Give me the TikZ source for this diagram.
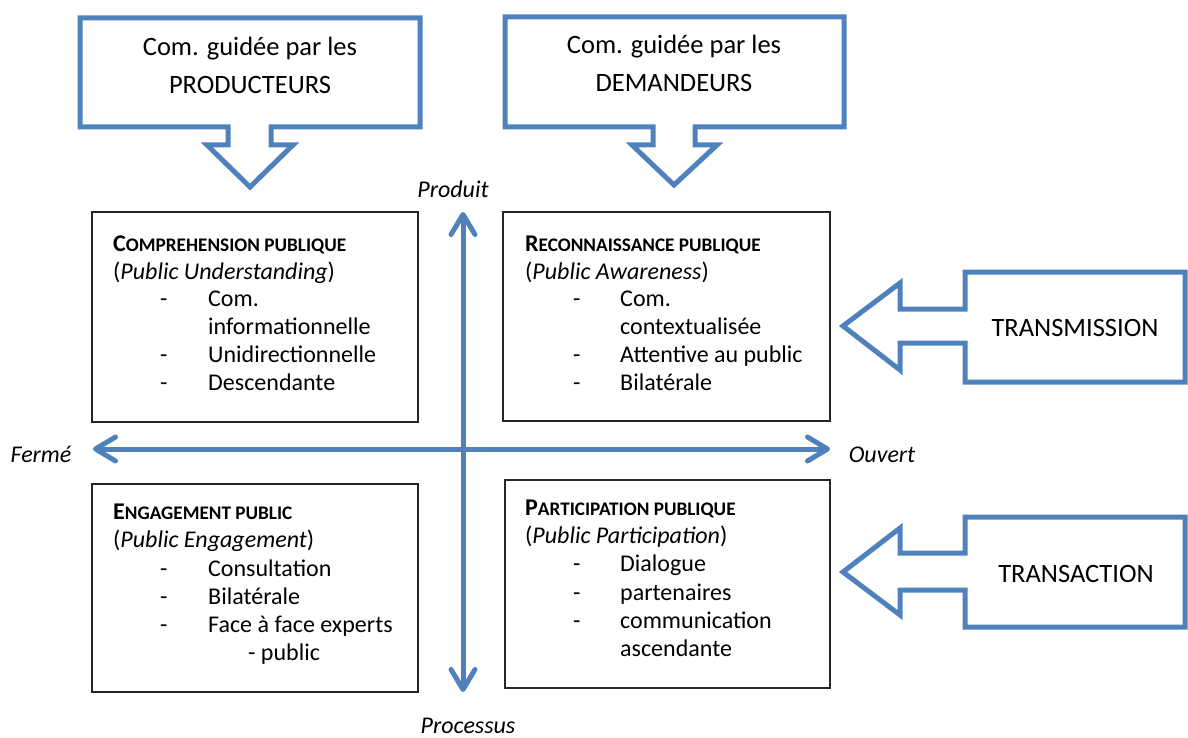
\documentclass[tikz,border=0pt]{standalone}
\usepackage{fontspec}
\setmainfont{Carlito}
\usetikzlibrary{arrows.meta}
\definecolor{obl}{HTML}{4F81BD}
\newcommand\bodyfont{\fontsize{24}{29}\selectfont}
\newcommand\bigfont{\fontsize{26.5}{38}\selectfont}
\newcommand\fsc[2]{\textbf{#1{\fontsize{19.2}{20}\selectfont #2}}}
\begin{document}
\begin{tikzpicture}[x=1pt,y=-1pt,
  callout/.style={draw=obl,line width=5pt,line join=miter},
  quad/.style={draw=black!85,line width=1.3pt,inner sep=0pt},
  txt/.style={anchor=base west,inner sep=0pt,font=\bodyfont},
  ctxt/.style={anchor=base,inner sep=0pt,font=\bigfont},
  lbl/.style={anchor=base,inner sep=0pt,font=\bodyfont\itshape},
  axis/.style={draw=obl,line width=5pt,{Straight Barb[round,length=20pt,width=24pt]}-{Straight Barb[round,length=20pt,width=24pt]}}
]
\useasboundingbox (0,0) rectangle (1188,738);

% callouts
\draw[callout] (80,18) -- (420,18) -- (420,127) -- (271,127) -- (271,145) -- (293,145) -- (250,187) -- (207,145) -- (228,145) -- (228,127) -- (80,127) -- cycle;
\node[ctxt] (p1a) at (250,56) {Com. guidée par les};
\node[ctxt] (p1b) at (250,94) {PRODUCTEURS};

\draw[callout] (505,17) -- (844,17) -- (844,127) -- (695,127) -- (695,145) -- (717,145) -- (674,185) -- (632,145) -- (653,145) -- (653,127) -- (505,127) -- cycle;
\node[ctxt] (p2a) at (674,54) {Com. guidée par les};
\node[ctxt] (p2b) at (674,92) {DEMANDEURS};

\draw[callout] (965,272) -- (1185,272) -- (1185,382) -- (965,382) -- (965,343) -- (900,343) -- (900,370) -- (843,326) -- (900,283) -- (900,309) -- (965,309) -- cycle;
\node[ctxt] (p3) at (1075,336) {TRANSMISSION};

\draw[callout] (965,517) -- (1185,517) -- (1185,627) -- (965,627) -- (965,590) -- (900,590) -- (900,615) -- (843,572) -- (900,528) -- (900,553) -- (965,553) -- cycle;
\node[ctxt] (p4) at (1076,582) {TRANSACTION};

% quadrant boxes
\node[quad,minimum width=326pt,minimum height=210pt] (tl) at (255,317) {};
\node[quad,minimum width=327pt,minimum height=209pt] (tr) at (666.5,316.5) {};
\node[quad,minimum width=326pt,minimum height=208pt] (bl) at (255,588) {};
\node[quad,minimum width=325pt,minimum height=208pt] (br) at (667.5,584) {};

% axes
\coordinate (N) at (463,212);
\coordinate (S) at (463,692);
\coordinate (W) at (93,449);
\coordinate (E) at (830,449);
\draw[axis] (N) -- (S);
\draw[axis] (W) -- (E);
\node[lbl] (lN) at (453,197) {Produit};
\node[lbl] (lS) at (468,733) {Processus};
\node[lbl] (lW) at (41,462) {Fermé};
\node[lbl] (lE) at (882,462) {Ouvert};

% top-left text
\node[txt] (tl1) at (113,251) {\fsc{C}{OMPREHENSION PUBLIQUE}};
\node[txt] (tl2) at (113,279) {(\textit{Public Understanding})};
\node[txt] (tl3d) at (160,306) {-};
\node[txt] (tl3) at (208,306) {Com.};
\node[txt] (tl4) at (208,334) {informationnelle};
\node[txt] (tl5d) at (160,362) {-};
\node[txt] (tl5) at (208,362) {Unidirectionnelle};
\node[txt] (tl6d) at (160,390) {-};
\node[txt] (tl6) at (208,390) {Descendante};

% top-right text
\node[txt] (tr1) at (525,251) {\fsc{R}{ECONNAISSANCE PUBLIQUE}};
\node[txt] (tr2) at (525,279) {(\textit{Public Awareness})};
\node[txt] (tr3d) at (573,306) {-};
\node[txt] (tr3) at (620,306) {Com.};
\node[txt] (tr4) at (620,334) {contextualisée};
\node[txt] (tr5d) at (573,362) {-};
\node[txt] (tr5) at (620,362) {Attentive au public};
\node[txt] (tr6d) at (573,390) {-};
\node[txt] (tr6) at (620,390) {Bilatérale};

% bottom-left text
\node[txt] (bl1) at (113,519) {\fsc{E}{NGAGEMENT PUBLIC}};
\node[txt] (bl2) at (113,547) {(\textit{Public Engagement})};
\node[txt] (bl3d) at (160,576) {-};
\node[txt] (bl3) at (208,576) {Consultation};
\node[txt] (bl4d) at (160,604) {-};
\node[txt] (bl4) at (208,604) {Bilatérale};
\node[txt] (bl5d) at (160,632) {-};
\node[txt] (bl5) at (208,632) {Face à face experts};
\node[txt] (bl6) at (248,660) {- public};

% bottom-right text
\node[txt] (br1) at (525,515) {\fsc{P}{ARTICIPATION PUBLIQUE}};
\node[txt] (br2) at (525,543) {(\textit{Public Participation})};
\node[txt] (br3d) at (573,571) {-};
\node[txt] (br3) at (620,571) {Dialogue};
\node[txt] (br4d) at (573,600) {-};
\node[txt] (br4) at (620,600) {partenaires};
\node[txt] (br5d) at (573,628) {-};
\node[txt] (br5) at (620,628) {communication};
\node[txt] (br6) at (620,656) {ascendante};
\end{tikzpicture}
\end{document}
